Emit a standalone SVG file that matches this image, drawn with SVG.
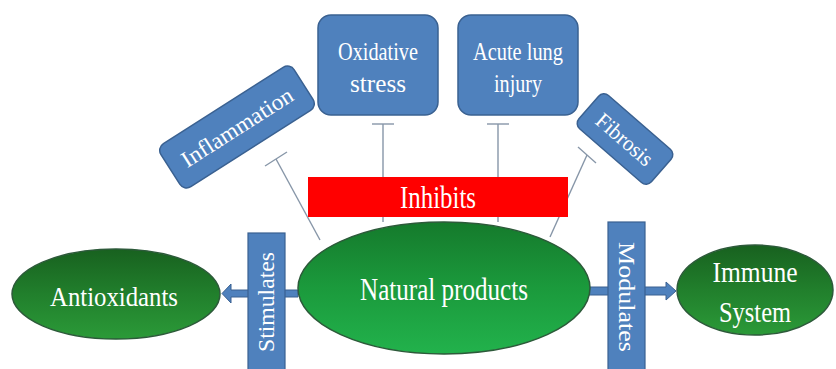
<svg xmlns="http://www.w3.org/2000/svg" width="836" height="369" viewBox="0 0 836 369">
  <defs>
    <linearGradient id="gNat" x1="0" y1="0" x2="0" y2="1">
      <stop offset="0" stop-color="#157a2c"/>
      <stop offset="0.5" stop-color="#1b9a3c"/>
      <stop offset="1" stop-color="#22b24c"/>
    </linearGradient>
    <linearGradient id="gSide" x1="0" y1="0" x2="0" y2="1">
      <stop offset="0" stop-color="#18611f"/>
      <stop offset="0.5" stop-color="#217f2c"/>
      <stop offset="1" stop-color="#2b9a38"/>
    </linearGradient>
    <style>
      .box { fill: #4f81bd; stroke: #3a6191; stroke-width: 1.5; }
      .bar { fill: #4f81bd; stroke: #3a6191; stroke-width: 1.2; }
      .arrow { fill: #4f81bd; stroke: #3a6191; stroke-width: 1; }
      .inh { stroke: #8796a8; stroke-width: 1.4; fill: none; }
      .t { fill: #ffffff; text-anchor: middle; font-family: "Times New Roman", "Liberation Serif", Times, serif; }
      .ell { stroke: #2d5a3a; stroke-width: 1.5; }
    </style>
  </defs>

  <g id="connectors">
    <line class="inh" x1="276" y1="159" x2="320" y2="240"/>
    <line class="inh" x1="265" y1="166" x2="287" y2="152"/>
    <line class="inh" x1="383" y1="124" x2="383" y2="222"/>
    <line class="inh" x1="372" y1="124" x2="394" y2="124"/>
    <line class="inh" x1="498" y1="124" x2="498" y2="222"/>
    <line class="inh" x1="487" y1="124" x2="509" y2="124"/>
    <line class="inh" x1="587" y1="155" x2="550" y2="237"/>
    <line class="inh" x1="578" y1="147" x2="596" y2="163"/>
    <polygon class="arrow" points="298,290 231,290 231,284 222,293.5 231,303 231,297 298,297"/>
    <polygon class="arrow" points="588,287 666,287 666,282 676,291 666,300 666,295 588,295"/>
  </g>

  <g id="inhibits">
    <rect x="308" y="177" width="260" height="40" fill="#ff0000"/>
    <text class="t" x="438" y="208" font-size="31" textLength="76" lengthAdjust="spacingAndGlyphs">Inhibits</text>
  </g>

  <g id="inflammation" transform="translate(237,127) rotate(-32.5)">
    <rect class="box" x="-79" y="-25.5" width="158" height="51" rx="8"/>
    <text class="t" x="0" y="8" font-size="23" textLength="128" lengthAdjust="spacingAndGlyphs">Inflammation</text>
  </g>

  <g id="oxidative">
    <rect class="box" x="318" y="15" width="120" height="100" rx="13"/>
    <text class="t" x="378" y="60" font-size="25" textLength="80" lengthAdjust="spacingAndGlyphs">Oxidative</text>
    <text class="t" x="378" y="92" font-size="25" textLength="56" lengthAdjust="spacingAndGlyphs">stress</text>
  </g>

  <g id="acute">
    <rect class="box" x="458" y="15" width="120" height="100" rx="13"/>
    <text class="t" x="518" y="60" font-size="25" textLength="90" lengthAdjust="spacingAndGlyphs">Acute lung</text>
    <text class="t" x="518" y="92" font-size="25" textLength="48" lengthAdjust="spacingAndGlyphs">injury</text>
  </g>

  <g id="fibrosis" transform="translate(625,139) rotate(41)">
    <rect class="box" x="-48" y="-22" width="96" height="44" rx="7"/>
    <text class="t" x="0" y="8" font-size="22" textLength="68" lengthAdjust="spacingAndGlyphs">Fibrosis</text>
  </g>

  <g id="stimulates">
    <rect class="bar" x="248" y="233" width="37" height="140"/>
    <text class="t" transform="translate(274,302) rotate(-90)" x="0" y="0" font-size="23" textLength="100" lengthAdjust="spacingAndGlyphs">Stimulates</text>
  </g>

  <g id="modulates">
    <rect class="bar" x="608" y="222" width="37" height="151"/>
    <text class="t" transform="translate(619,297) rotate(90)" x="0" y="0" font-size="23" textLength="110" lengthAdjust="spacingAndGlyphs">Modulates</text>
  </g>

  <g id="natural">
    <ellipse class="ell" cx="444" cy="288" rx="146" ry="66" fill="url(#gNat)"/>
    <text class="t" x="444" y="300" font-size="31" textLength="168" lengthAdjust="spacingAndGlyphs">Natural products</text>
  </g>

  <g id="antioxidants">
    <ellipse class="ell" cx="116" cy="294" rx="104" ry="45" fill="url(#gSide)"/>
    <text class="t" x="114" y="306" font-size="28" textLength="128" lengthAdjust="spacingAndGlyphs">Antioxidants</text>
  </g>

  <g id="immune">
    <ellipse class="ell" cx="755" cy="290" rx="78" ry="45" fill="url(#gSide)"/>
    <text class="t" x="755" y="282" font-size="29" textLength="85" lengthAdjust="spacingAndGlyphs">Immune</text>
    <text class="t" x="755" y="322" font-size="29" textLength="72" lengthAdjust="spacingAndGlyphs">System</text>
  </g>
</svg>
